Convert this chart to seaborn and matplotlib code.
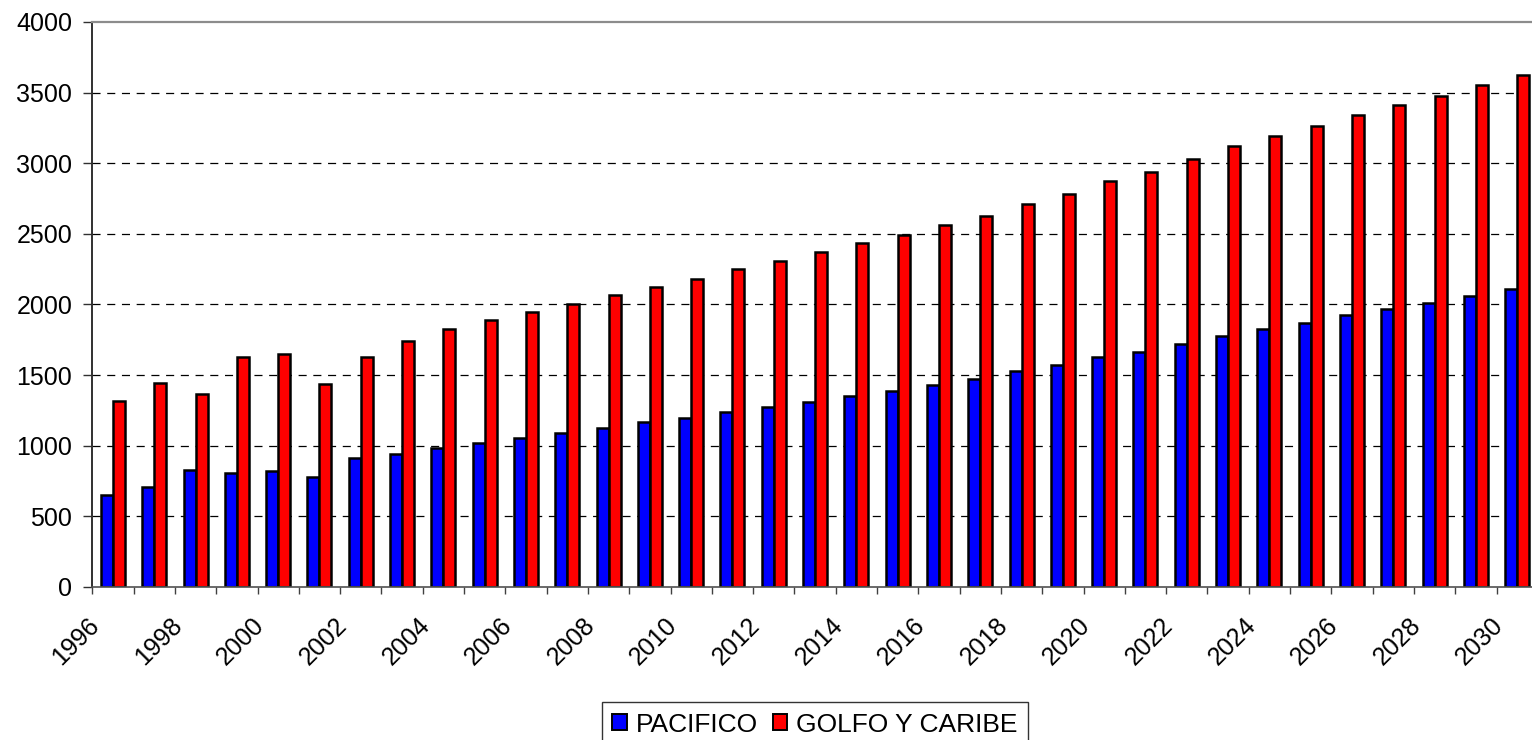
import numpy as np
import pandas as pd
import matplotlib
matplotlib.use("Agg")
import matplotlib.pyplot as plt
from matplotlib.transforms import ScaledTranslation
from matplotlib.ticker import FixedLocator
import seaborn as sns

# Annual values per coastal region
years = list(range(1996, 2031))
pacifico = [649, 706, 826, 807, 819, 777, 911, 940, 985, 1023, 1058, 1092,
            1127, 1165, 1200, 1240, 1275, 1313, 1351, 1391, 1433, 1471, 1528,
            1572, 1625, 1663, 1719, 1779, 1827, 1870, 1924, 1967, 2010, 2063, 2111]
golfo_caribe = [1318, 1441, 1368, 1630, 1651, 1434, 1630, 1741, 1824, 1890, 1949, 2006,
                2065, 2124, 2183, 2249, 2308, 2369, 2433, 2492, 2565, 2626, 2712,
                2784, 2873, 2936, 3027, 3121, 3194, 3262, 3341, 3409, 3475, 3554, 3624]
series_names = ["PACIFICO", "GOLFO Y CARIBE"]
series_colors = ["#0000FF", "#FF0000"]
y_ticks = [0, 500, 1000, 1500, 2000, 2500, 3000, 3500, 4000]

df = pd.DataFrame({
    "year": [str(y) for y in years] * 2,
    "value": pacifico + golfo_caribe,
    "series": [series_names[0]] * len(years) + [series_names[1]] * len(years),
})

sns.set_theme(style="white")
plt.rcParams["font.family"] = ["Liberation Sans", "DejaVu Sans"]
plt.rcParams["lines.scale_dashes"] = False
plt.rcParams["text.color"] = "black"
plt.rcParams["xtick.labelcolor"] = "black"
plt.rcParams["ytick.labelcolor"] = "black"

W, H, DPI = 1532, 740, 100
fig = plt.figure(figsize=(W / DPI, H / DPI), dpi=DPI)
left, right, top, bottom = 92.3, 1537.8, 22.0, 587.0
ax = fig.add_axes([left / W, (H - bottom) / H, (right - left) / W, (bottom - top) / H])

sns.barplot(data=df, x="year", y="value", hue="series", hue_order=series_names,
            palette=series_colors, width=0.58, edgecolor="black", linewidth=1.8,
            saturation=1, ax=ax, legend=True, errorbar=None)

ax.set_xlim(-0.5, len(years) - 0.5)
ax.set_ylim(0, 4000)
ax.set_xlabel("")
ax.set_ylabel("")

# dashed horizontal grid behind the bars
ax.set_axisbelow(True)
for v in y_ticks[1:-1]:
    ax.axhline(v, color="black", linewidth=0.9, linestyle=(0, (5.8, 4.8)), zorder=0)

ax.spines["right"].set_visible(False)
ax.spines["top"].set_color("#8c8c8c")
ax.spines["top"].set_linewidth(1.6)
ax.spines["left"].set_color("#303030")
ax.spines["left"].set_linewidth(1.4)
ax.spines["bottom"].set_color("#505050")
ax.spines["bottom"].set_linewidth(1.2)

tick_fs = 18
ax.set_yticks(y_ticks)
ax.set_yticklabels([str(v) for v in y_ticks], fontsize=tick_fs, color="black")
ax.tick_params(axis="y", direction="out", length=6.5, width=1, color="#303030",
               pad=8, left=True)

# category labels every other year, tick marks at category boundaries
ax.set_xticks(range(0, len(years), 2))
ax.set_xticklabels([str(y) for y in years[::2]], rotation=45, ha="right", va="top",
                   fontsize=tick_fs, color="black")
ax.tick_params(axis="x", which="major", length=0, pad=19)
ax.xaxis.set_minor_locator(FixedLocator(np.arange(-0.5, len(years), 1.0)))
ax.tick_params(axis="x", which="minor", direction="out", length=5, width=1,
               color="#404040", bottom=True)
shift = ScaledTranslation(-9 / DPI, 0, fig.dpi_scale_trans)
for lab in ax.get_xticklabels():
    lab.set_transform(lab.get_transform() + shift)

handles, labels = ax.get_legend_handles_labels()
leg = ax.legend(handles, labels, loc="upper center",
                bbox_to_anchor=(0.5, (bottom - 702) / (bottom - top)),
                ncol=2, frameon=True, fancybox=False, fontsize=19,
                handlelength=0.55, handleheight=0.55, handletextpad=0.35,
                columnspacing=0.55, borderpad=0.4, borderaxespad=0)
leg.get_frame().set_edgecolor("black")
leg.get_frame().set_linewidth(1.0)
for t in leg.get_texts():
    t.set_color("black")
for h in leg.legend_handles:
    h.set_edgecolor("black")
    h.set_linewidth(1.4)

fig.savefig("out.png", dpi=DPI, facecolor="white")
